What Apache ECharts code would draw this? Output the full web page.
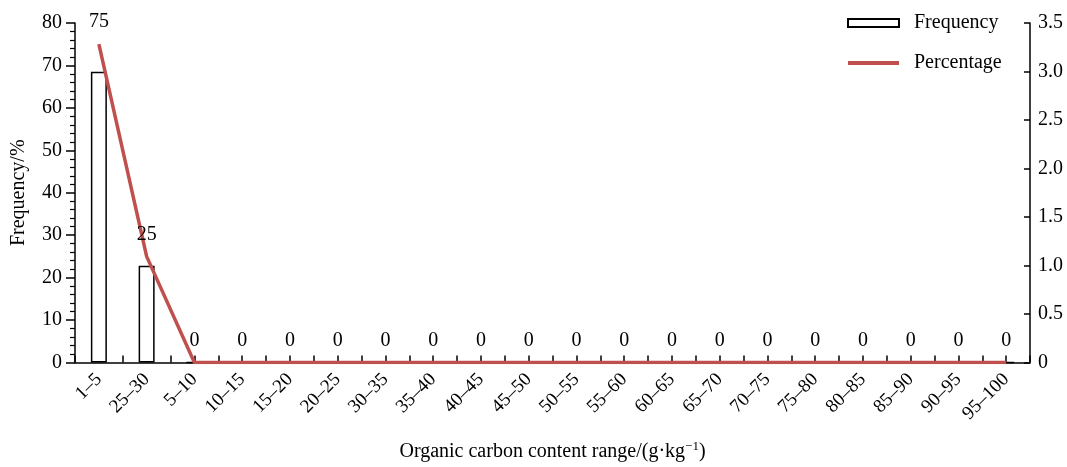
<!DOCTYPE html>
<html>
<head>
<meta charset="utf-8">
<script src="https://cdn.jsdelivr.net/npm/echarts@6/dist/echarts.min.js"></script>
<style>
  html, body { margin: 0; padding: 0; background: #fff; }
  #chart { width: 1067px; height: 467px; }
</style>
</head>
<body>
<div id="chart"></div>
<script>
const categories = ['1–5', '25–30', '5–10', '10–15', '15–20', '20–25', '30–35', '35–40', '40–45', '45–50',
  '50–55', '55–60', '60–65', '65–70', '70–75', '75–80', '80–85', '85–90', '90–95', '95–100']
const frequencyBars = [68.5, 22.8, 0, 0, 0, 0, 0, 0, 0, 0, 0, 0, 0, 0, 0, 0, 0, 0, 0, 0]
const percentageLine = [75, 25, 0, 0, 0, 0, 0, 0, 0, 0, 0, 0, 0, 0, 0, 0, 0, 0, 0, 0]
const leftTicks = { min: 0, max: 80, interval: 10 }
const rightTicks = { min: 0, max: 3.5, interval: 0.5 }

const font = 'Liberation Serif'
const red = '#c0504d'
const chart = echarts.init(document.getElementById('chart'))

const option = {
  animation: false,
  textStyle: { fontFamily: font, color: '#000' },
  grid: { left: 75, right: 37, top: 23, bottom: 101 },
  legend: {
    orient: 'vertical',
    left: 842,
    top: 8,
    itemWidth: 51,
    itemHeight: 8,
    itemGap: 20,
    textStyle: { fontFamily: font, fontSize: 20, color: '#000', padding: [0, 0, 0, 10] },
    data: [
      { name: 'Frequency', icon: 'rect' },
      { name: 'Percentage', icon: 'path://M0,0L51,0L51,4L0,4Z' }
    ]
  },
  xAxis: {
    type: 'value',
    min: -0.5,
    max: 19.5,
    interval: 0.5,
    name: 'Organic carbon content range/(g·kg{sup|−1})',
    nameLocation: 'middle',
    nameGap: 78,
    nameTextStyle: {
      fontFamily: font, fontSize: 20, color: '#000',
      rich: { sup: { fontFamily: font, fontSize: 13, verticalAlign: 'top', padding: [0, 0, 10, 0], color: '#000' } }
    },
    axisLine: { show: true, onZero: false, lineStyle: { color: '#000', width: 1.5 } },
    axisTick: { show: true, inside: true, length: 7, lineStyle: { color: '#000', width: 1.5 } },
    splitLine: { show: false },
    axisLabel: {
      rotate: 45,
      fontFamily: font,
      fontSize: 19,
      color: '#000',
      margin: 14,
      formatter: v => Number.isInteger(v) ? categories[v] : ''
    }
  },
  yAxis: [
    {
      type: 'value',
      min: leftTicks.min,
      max: leftTicks.max,
      interval: leftTicks.interval,
      name: 'Frequency/%',
      nameLocation: 'middle',
      nameGap: 46,
      nameTextStyle: { fontFamily: font, fontSize: 20, color: '#000' },
      axisLine: { show: true, onZero: false, lineStyle: { color: '#000', width: 1.5 } },
      axisTick: { show: true, length: 9, lineStyle: { color: '#000', width: 1.5 } },
      minorTick: { show: true, splitNumber: 5, length: 5, lineStyle: { color: '#000', width: 1.2 } },
      splitLine: { show: false },
      axisLabel: { fontFamily: font, fontSize: 20, color: '#000', margin: 13 }
    },
    {
      type: 'value',
      position: 'right',
      min: rightTicks.min,
      max: rightTicks.max,
      interval: rightTicks.interval,
      axisLine: { show: true, onZero: false, lineStyle: { color: '#000', width: 1.5 } },
      axisTick: { show: true, inside: true, length: 6, lineStyle: { color: '#000', width: 1.5 } },
      splitLine: { show: false },
      axisLabel: {
        fontFamily: font, fontSize: 20, color: '#000', margin: 8,
        formatter: v => v === 0 ? '0' : v.toFixed(1)
      }
    }
  ],
  series: [
    {
      name: 'Frequency',
      type: 'bar',
      yAxisIndex: 0,
      barWidth: 16,
      itemStyle: { color: '#fff', borderColor: '#000', borderWidth: 1.5 },
      data: frequencyBars.map((v, i) => [i, v])
    },
    {
      name: 'Percentage',
      type: 'line',
      yAxisIndex: 0,
      symbol: 'circle',
      symbolSize: 0.1,
      showSymbol: true,
      lineStyle: { color: red, width: 3.5 },
      itemStyle: { color: red },
      label: {
        show: true,
        position: 'top',
        distance: 12,
        fontFamily: font,
        fontSize: 20,
        color: '#000'
      },
      data: percentageLine.map((v, i) => [i, v])
    }
  ]
}

chart.setOption(option)
</script>
</body>
</html>
